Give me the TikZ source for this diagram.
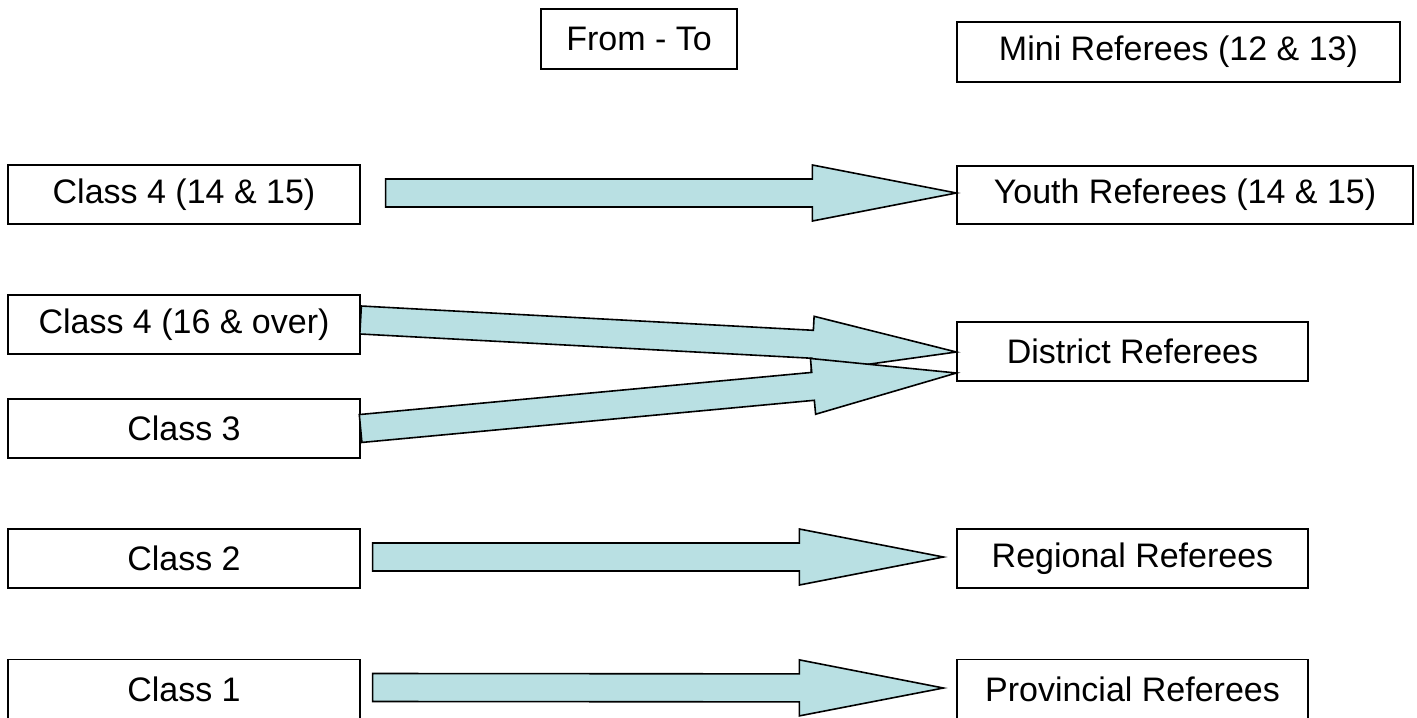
\documentclass[tikz,border=0pt]{standalone}
\usepackage{fontspec}
\setmainfont{Liberation Sans}
\usepackage{xcolor}
\usetikzlibrary{calc}
\definecolor{arrowblue}{HTML}{B9E0E3}

\begin{document}
\begin{tikzpicture}[x=0.5pt,y=-0.5pt,font=\fontsize{17}{20}\selectfont]
\tikzstyle{box}=[draw,rectangle,line width=0.6pt,inner sep=0pt,minimum width=176pt,minimum height=29.5pt]
\tikzstyle{fat}=[draw=black,fill=arrowblue,line width=0.8pt,line join=miter,to path={
	($(\tikztostart)!7pt!90:(\tikztotarget)$)
	-- ($(\tikztotarget)!72pt!(\tikztostart)!7pt!-90:(\tikztostart)$)
	-- ($(\tikztotarget)!72pt!(\tikztostart)!14pt!-90:(\tikztostart)$)
	-- (\tikztotarget)
	-- ($(\tikztotarget)!72pt!(\tikztostart)!14pt!90:(\tikztostart)$)
	-- ($(\tikztotarget)!72pt!(\tikztostart)!7pt!90:(\tikztostart)$)
	-- ($(\tikztostart)!7pt!-90:(\tikztotarget)$)
	-- cycle}]

\useasboundingbox (0,0) rectangle (1417,717);

\node[box,minimum width=98pt,minimum height=30pt] (fromto) at (639,39) {From - To};
\node[box,minimum width=221.5pt,minimum height=30pt] (mini) at (1178.5,52) {Mini Referees (12 \& 13)};

\node[box] (class414) at (184,194.5) {Class 4 (14 \& 15)};
\node[box,minimum width=228pt,minimum height=29pt] (youth) at (1185,195) {Youth Referees (14 \& 15)};

\node[box] (class416) at (184,324.5) {Class 4 (16 \& over)};
\node[box,minimum width=175.5pt] (district) at (1132.5,351.5) {District Referees};
\node[box] (class3) at (184,428.5) {Class 3};

\node[box] (class2) at (184,558.5) {Class 2};
\node[box,minimum width=175.5pt] (regional) at (1132.5,558.5) {Regional Referees};

\node[box] (class1) at (184,689) {Class 1};
\node[box,minimum width=175.5pt] (provincial) at (1132.5,689) {Provincial Referees};

\coordinate (a1) at ($(class414.east)+(25,-1.5)$);
\coordinate (b1) at ($(youth.west)+(0,-2)$);
\coordinate (a2) at ($(class416.east)+(0,-4.5)$);
\coordinate (b2) at ($(district.west)+(0,0.5)$);
\coordinate (a3) at (class3.east);
\coordinate (b3) at ($(district.west)+(0,21.5)$);
\coordinate (a4) at ($(class2.east)+(12,-1.5)$);
\coordinate (b4) at ($(regional.west)+(-13,-1.5)$);
\coordinate (a5) at ($(class1.east)+(12,-1.5)$);
\coordinate (b5) at ($(provincial.west)+(-13,-1)$);

\path
	(a1) edge[fat] (b1)
	(a2) edge[fat] (b2)
	(a3) edge[fat] (b3)
	(a4) edge[fat] (b4)
	(a5) edge[fat] (b5);
\end{tikzpicture}
\end{document}
